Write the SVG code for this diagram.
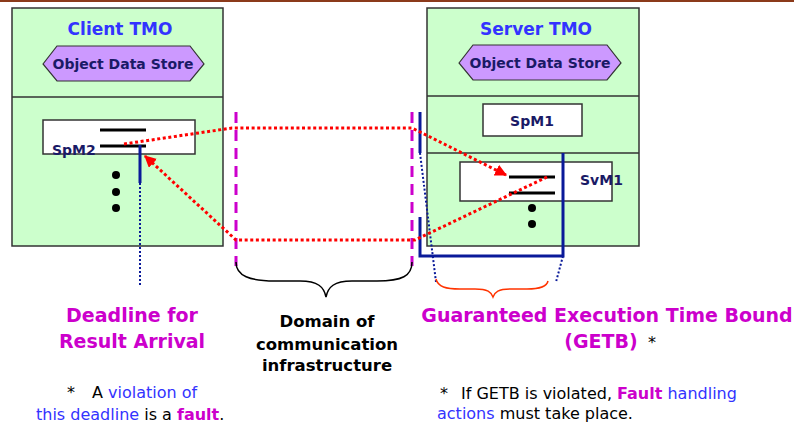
<svg xmlns="http://www.w3.org/2000/svg" width="794" height="428" viewBox="0 0 794 428">
<defs>
<style>
.box{fill:#CCFFCC;stroke:#333;stroke-width:1.5}
.wbox{fill:#fff;stroke:#333;stroke-width:1.5}
.hex{fill:#CC99FF;stroke:#333;stroke-width:1.2}
.title{font-family:"DejaVu Sans",Verdana,sans-serif;font-weight:bold;font-size:17px;fill:#3333FF;text-anchor:middle}
.ods{font-family:"DejaVu Sans",Verdana,sans-serif;font-weight:bold;font-size:14px;fill:#1A1A66;text-anchor:middle}
.sp{font-family:"DejaVu Sans",Verdana,sans-serif;font-weight:bold;font-size:14px;fill:#1A1A66}
.bar{stroke:#000;stroke-width:3}
.navy{stroke:#0A1A99;stroke-width:3;fill:none}
.navydot{stroke:#0A1A99;stroke-width:2;stroke-dasharray:2 2;fill:none}
.red{stroke:#FF0000;stroke-width:3;stroke-dasharray:3 2.6;fill:none}
.mag{stroke:#CC00CC;stroke-width:3;stroke-dasharray:11 7;fill:none}
.big{font-family:"DejaVu Sans",Verdana,sans-serif;font-weight:bold;font-size:19px;fill:#CC00CC;text-anchor:middle}
.dom{font-family:"DejaVu Sans",Verdana,sans-serif;font-weight:bold;font-size:16.5px;fill:#000;text-anchor:middle}
.note{font-family:"DejaVu Sans",Verdana,sans-serif;font-size:16px;fill:#000}
.b{fill:#3333FF}
.m{fill:#CC00CC;font-weight:bold}
</style>
<marker id="ah" viewBox="0 0 10 10" refX="9" refY="5" markerWidth="4" markerHeight="4" orient="auto" markerUnits="strokeWidth">
<path d="M0,0 L10,5 L0,10 Z" fill="#FF0000"/>
</marker>
</defs>
<rect x="0" y="0" width="794" height="428" fill="#fff"/>
<line x1="0" y1="1" x2="794" y2="1" stroke="#8B3A1A" stroke-width="2"/>

<g id="client-tmo">
<rect class="box" x="12" y="8" width="211" height="238"/>
<line x1="12" y1="97" x2="223" y2="97" stroke="#333" stroke-width="1.5"/>
<text class="title" x="120" y="35">Client TMO</text>
<g id="client-ods">
<polygon class="hex" points="43,64 57,46 190,46 204,64 190,81 57,81"/>
<text class="ods" x="123" y="69">Object Data Store</text>
</g>
<g id="spm2">
<rect class="wbox" x="43" y="120" width="152" height="34"/>
<line class="bar" x1="100" y1="130" x2="146" y2="130"/>
<line class="bar" x1="100" y1="146" x2="146" y2="146"/>
<text class="sp" x="52" y="155">SpM2</text>
</g>
<circle cx="116" cy="175" r="4" fill="#000"/>
<circle cx="116" cy="192" r="4" fill="#000"/>
<circle cx="116" cy="208" r="4" fill="#000"/>
</g>

<g id="server-tmo">
<rect class="box" x="427" y="8" width="212" height="238"/>
<line x1="427" y1="96" x2="639" y2="96" stroke="#333" stroke-width="1.5"/>
<line x1="427" y1="153" x2="639" y2="153" stroke="#333" stroke-width="1.5"/>
<text class="title" x="536" y="35">Server TMO</text>
<g id="server-ods">
<polygon class="hex" points="459,63 473,45 607,45 621,63 607,80 473,80"/>
<text class="ods" x="540" y="68">Object Data Store</text>
</g>
<g id="spm1">
<rect class="wbox" x="483" y="104" width="99" height="32"/>
<text class="sp" x="532" y="126" text-anchor="middle">SpM1</text>
</g>
<g id="svm1">
<rect class="wbox" x="460" y="162" width="152" height="39"/>
<line class="bar" x1="509" y1="177" x2="555" y2="177"/>
<line class="bar" x1="509" y1="193" x2="555" y2="193"/>
<text class="sp" x="580" y="185">SvM1</text>
</g>
<circle cx="532" cy="208" r="4" fill="#000"/>
<circle cx="532" cy="224" r="4" fill="#000"/>
</g>

<g id="connectors">
<line class="mag" x1="236" y1="112" x2="236" y2="266"/>
<line class="mag" x1="412" y1="112" x2="412" y2="266"/>
<line class="navy" x1="140" y1="145" x2="140" y2="183"/>
<line class="navydot" x1="140" y1="183" x2="140" y2="286"/>
<line class="navy" x1="420" y1="112" x2="420" y2="153"/>
<polyline class="navy" points="420,217 420,256 563,256 563,153"/>
<line class="navydot" x1="420" y1="153" x2="436" y2="282"/>
<line class="navydot" x1="563" y1="256" x2="556" y2="282"/>
<polyline class="red" points="124,144 232,128 412,128 506,175" marker-end="url(#ah)"/>
<polyline class="red" points="547,177 415,240 236,240 145,156" marker-end="url(#ah)"/>
<path d="M236,262 C236,276 250,281 275,281 L300,281 C318,281 324,287 326,297 C328,287 334,281 352,281 L377,281 C402,281 412,276 412,262" fill="none" stroke="#000" stroke-width="1.5"/>
<path d="M436,279 C438,287 446,289 460,289 L475,289 C488,289 491,292 493,297 C495,292 498,289 511,289 L527,289 C541,289 547,286 548,281" fill="none" stroke="#FF3300" stroke-width="1.5"/>
</g>

<g id="labels">
<text class="big" x="132" y="322">Deadline for</text>
<text class="big" x="132" y="348">Result Arrival</text>
<text class="dom" x="327" y="327">Domain of</text>
<text class="dom" x="327" y="350">communication</text>
<text class="dom" x="327" y="371">infrastructure</text>
<text class="big" x="607" y="322">Guaranteed Execution Time Bound</text>
<text class="big" x="601" y="348">(GETB)</text>
<text class="note" x="648" y="348">*</text>
<text class="note" x="67" y="398">*<tspan x="92">A </tspan><tspan class="b">violation of</tspan></text>
<text class="note" x="36" y="420"><tspan class="b">this deadline</tspan> is a <tspan class="m">fault</tspan>.</text>
<text class="note" x="440" y="399">*<tspan x="461">If GETB is violated, </tspan><tspan class="m">Fault</tspan> <tspan class="b">handling</tspan></text>
<text class="note" x="437" y="419"><tspan class="b">actions</tspan> must take place.</text>
</g>
</svg>
